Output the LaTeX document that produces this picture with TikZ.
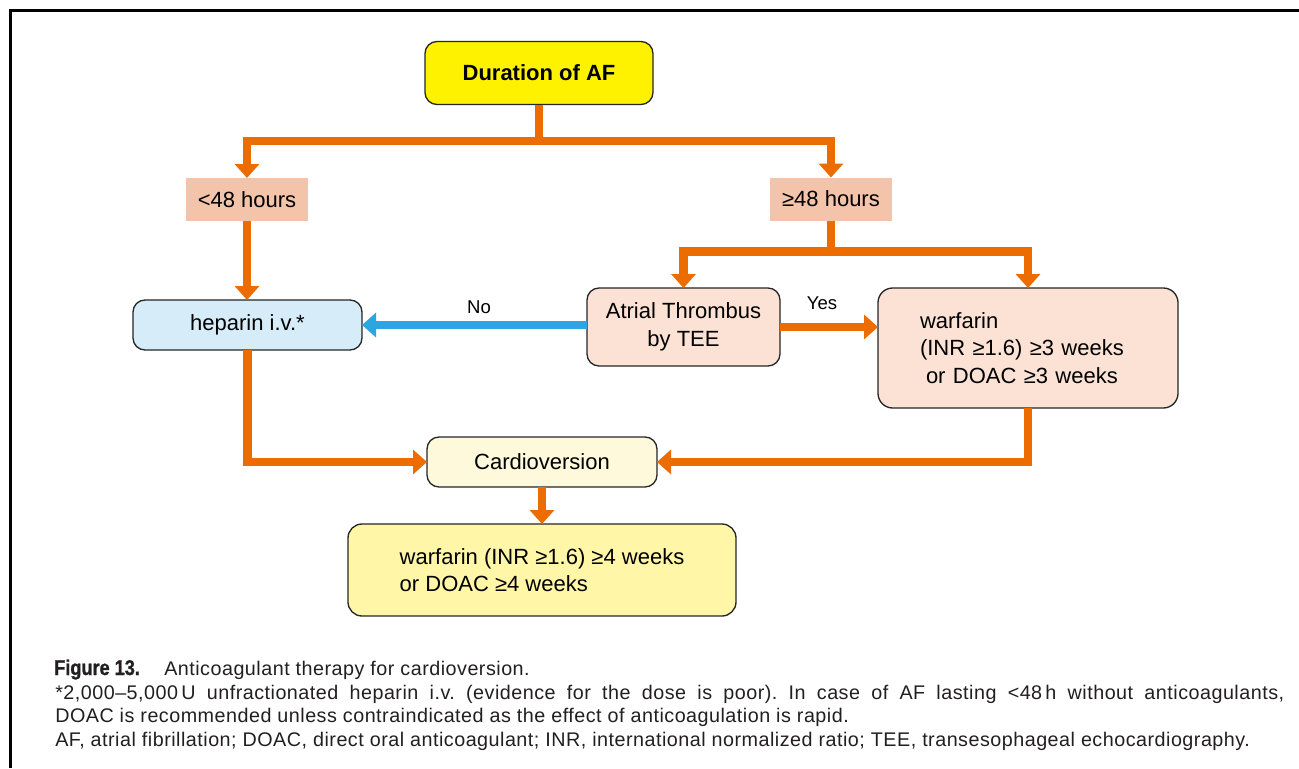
\documentclass[tikz,border=0pt]{standalone}
\usepackage{fontspec}
\setmainfont{Liberation Sans}
\newfontfamily\figlabel[FakeStretch=0.85,FakeBold=1]{Liberation Sans Bold}
\newfontfamily\captionfont[LetterSpace=2.5]{Liberation Sans}
\usetikzlibrary{arrows.meta}

\definecolor{flowor}{RGB}{236,108,0}
\definecolor{flowbl}{RGB}{44,166,224}
\definecolor{startyl}{RGB}{255,242,0}
\definecolor{tagsal}{RGB}{244,196,170}
\definecolor{hepbl}{RGB}{214,236,248}
\definecolor{peach}{RGB}{251,226,213}
\definecolor{cream}{RGB}{254,249,219}
\definecolor{paleyl}{RGB}{255,246,168}
\definecolor{captxt}{RGB}{35,31,32}

\begin{document}
\begin{tikzpicture}[x=0.75pt,y=-0.75pt,
  boxfont/.style={font=\fontsize{16.5pt}{20.6pt}\selectfont},
  box/.style={boxfont, draw=black!85, line width=1pt, rounded corners=9pt,
    inner sep=0pt, outer sep=0pt, align=center},
  tag/.style={boxfont, fill=tagsal, inner sep=0pt, outer sep=0pt,
    minimum width=91.5pt, minimum height=32.25pt},
  oarr/.style={draw=flowor, line width=6.4pt,
    -{Triangle[width=18pt,length=10.5pt]}},
  barr/.style={oarr, draw=flowbl},
  lbl/.style={font=\fontsize{13.9pt}{16pt}\selectfont, inner sep=0pt, anchor=base},
  captext/.style={font=\captionfont\fontsize{14.8pt}{17pt}\selectfont\frenchspacing,
    text=captxt, inner sep=0pt, anchor=base west}
]
\useasboundingbox (0,0) rectangle (1299,768);
\fill[white] (0,0) rectangle (1299,768);

% outer frame (open to the right and bottom)
\draw[line width=2.25pt] (10.5,768) -- (10.5,10) -- (1299,10);

% boxes
\node[box, fill=startyl, minimum width=171pt, minimum height=47.25pt,
  font=\fontsize{16.5pt}{20.6pt}\selectfont\bfseries] (dur) at (539,73) {Duration of AF};
\node[tag] (lt48) at (247,199.5) {<48 hours};
\node[tag] (ge48) at (831,199) {≥48 hours};
\node[box, fill=hepbl, minimum width=171.75pt, minimum height=37.5pt] (hep) at (247.5,325) {heparin i.v.*};
\node[box, fill=peach, minimum width=144.75pt, minimum height=58.5pt] (atr) at (683.5,327) {Atrial Thrombus\\by TEE};
\node[box, fill=peach, align=left, text width=162pt, inner xsep=31.5pt,
  minimum height=90pt, rounded corners=11pt] (war) at (1028,348)
  {warfarin\\(INR ≥1.6) ≥3 weeks\\\hspace*{4.5pt}or DOAC ≥3 weeks};
\node[box, fill=cream, minimum width=172.5pt, minimum height=37.5pt] (card) at (542,462) {Cardioversion};
\node[box, fill=paleyl, align=left, minimum width=291pt, minimum height=69pt,
  rounded corners=10.5pt] (fin) at (542,570) {warfarin (INR ≥1.6) ≥4 weeks\\or DOAC ≥4 weeks};

% connectors
\coordinate (split1) at (dur.south |- 0,141);
\draw[oarr] (dur.south) -- (split1) -| (lt48.north);
\draw[oarr] (dur.south) -- (split1) -| (ge48.north);
\draw[oarr] (lt48.south) -- (lt48.south |- hep.north);
\coordinate (split2) at (ge48.south |- 0,251.5);
\draw[oarr] (ge48.south) -- (split2) -| (atr.north);
\draw[oarr] (ge48.south) -- (split2) -| (war.north);
\draw[barr] (atr.west |- hep.east) -- (hep.east);
\draw[oarr] (atr.east) -- (war.west |- atr.east);
\draw[oarr] (hep.south) |- (card.west);
\draw[oarr] (war.south) |- (card.east);
\draw[oarr] (card.south) -- (fin.north);

% branch labels
\node[lbl] (nolbl) at (479,313) {No};
\node[lbl] (yeslbl) at (822,309) {Yes};

% caption
\node[captext] (cap1) at (54,675) {\makebox[82.5pt][l]{\figlabel\fontsize{16pt}{17pt}\selectfont Figure 13.}Anticoagulant therapy for cardioversion.};
\node[captext] (cap2) at (55,699) {\hbox to 921.75pt{*2,000–5,000\,U unfractionated heparin i.v. (evidence for the dose is poor). In case of AF lasting <48\,h without anticoagulants,}};
\node[captext] (cap3) at (55,722.5) {DOAC is recommended unless contraindicated as the effect of anticoagulation is rapid.};
\node[captext] (cap4) at (55,746.5) {AF, atrial fibrillation; DOAC, direct oral anticoagulant; INR, international normalized ratio; TEE, transesophageal echocardiography.};
\end{tikzpicture}
\end{document}
